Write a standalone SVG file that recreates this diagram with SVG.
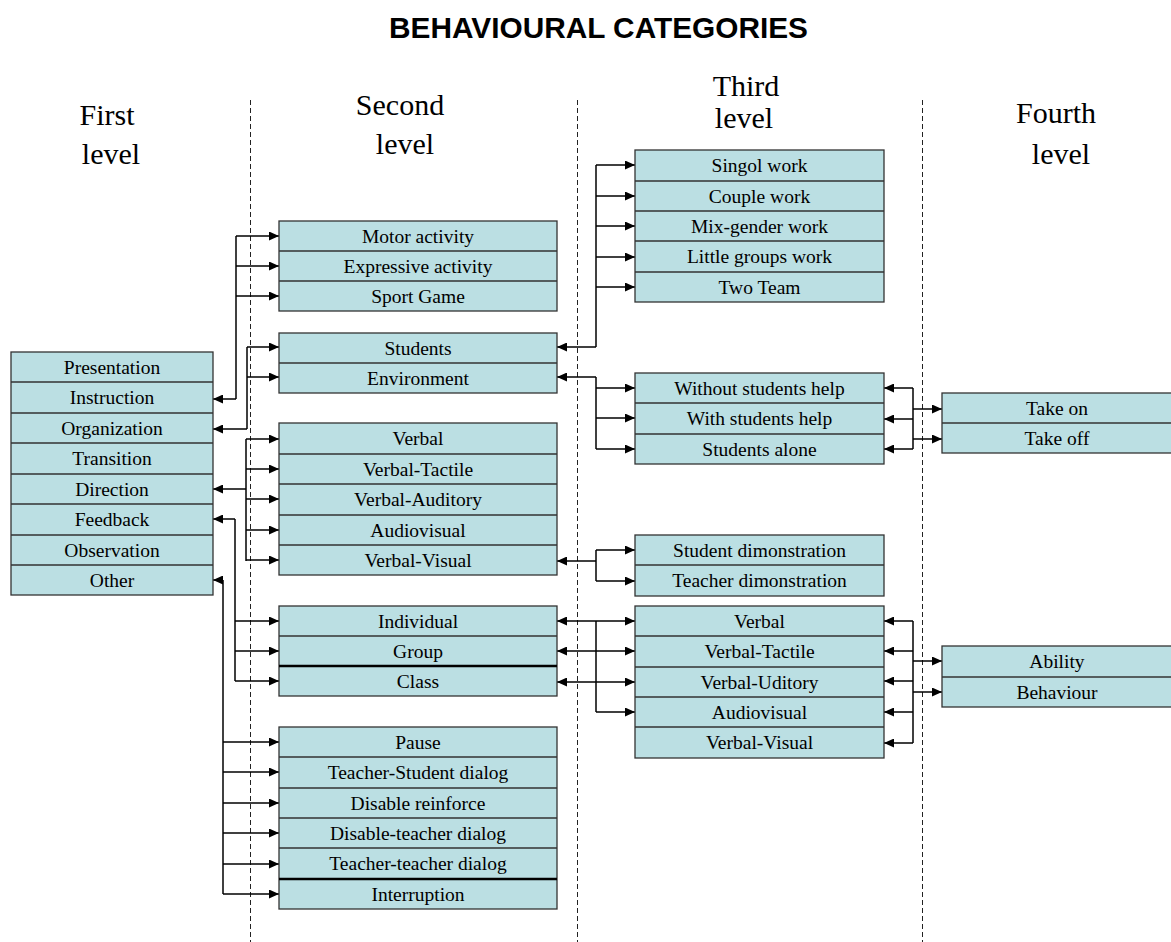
<svg xmlns="http://www.w3.org/2000/svg" width="1171" height="942" viewBox="0 0 1171 942">
<defs>
<marker id="ah" viewBox="0 0 10 9" refX="10" refY="4.5" markerWidth="10" markerHeight="9" markerUnits="userSpaceOnUse" orient="auto-start-reverse">
<path d="M0,0 L10,4.5 L0,9 z" fill="#000"/>
</marker>
<style>
.bx{fill:#bbdfe3;stroke:#333;stroke-width:1.3}
.sep{stroke:#333;stroke-width:1.3}
.thk{stroke:#000;stroke-width:2.6}
.t{font-family:"Liberation Serif","Times New Roman",serif;font-size:19.5px;fill:#000;text-anchor:middle}
.h{font-family:"Liberation Serif","Times New Roman",serif;font-size:30px;fill:#000;text-anchor:middle}
.title{font-family:"Liberation Sans",Arial,sans-serif;font-size:29.8px;font-weight:bold;fill:#000;text-anchor:middle}
.dash{stroke:#222;stroke-width:1;stroke-dasharray:5,3;fill:none}
.c{stroke:#000;stroke-width:1.5;fill:none}
.a{stroke:#000;stroke-width:1.5;fill:none;marker-end:url(#ah)}
.d{stroke:#000;stroke-width:1.5;fill:none;marker-end:url(#ah);marker-start:url(#ah)}
</style>
</defs>
<rect width="1171" height="942" fill="#fff"/>
<text class="title" x="598.5" y="38">BEHAVIOURAL CATEGORIES</text>
<g id="headings">
<text class="h" x="107" y="125">First</text>
<text class="h" x="111" y="164">level</text>
<text class="h" x="400" y="115">Second</text>
<text class="h" x="405" y="154">level</text>
<text class="h" x="746" y="96">Third</text>
<text class="h" x="744" y="128">level</text>
<text class="h" x="1056" y="123">Fourth</text>
<text class="h" x="1061" y="164">level</text>
</g>
<g id="dividers">
<line class="dash" x1="250.5" y1="100" x2="250.5" y2="942"/>
<line class="dash" x1="577.5" y1="100" x2="577.5" y2="942"/>
<line class="dash" x1="922.5" y1="100" x2="922.5" y2="942"/>
</g>
<g id="connectors">
<path class="c" d="M236,236 V399"/>
<path class="a" d="M236,399 H213"/>
<path class="a" d="M236,236 H279"/>
<path class="a" d="M236,266 H279"/>
<path class="a" d="M236,296 H279"/>
<path class="c" d="M247,347 V429"/>
<path class="a" d="M247,429 H213"/>
<path class="a" d="M247,347 H279"/>
<path class="a" d="M247,377 H279"/>
<path class="c" d="M246,439 V561"/>
<path class="a" d="M246,489 H213"/>
<path class="a" d="M246,439 H279"/>
<path class="a" d="M246,469 H279"/>
<path class="a" d="M246,499 H279"/>
<path class="a" d="M246,530 H279"/>
<path class="a" d="M246,560 H279"/>
<path class="c" d="M235,519 V681"/>
<path class="a" d="M235,519 H213"/>
<path class="a" d="M235,621 H279"/>
<path class="a" d="M235,651 H279"/>
<path class="a" d="M235,681 H279"/>
<path class="c" d="M223,580 V894"/>
<path class="a" d="M223,580 H213"/>
<path class="a" d="M223,742 H279"/>
<path class="a" d="M223,772 H279"/>
<path class="a" d="M223,803 H279"/>
<path class="a" d="M223,833 H279"/>
<path class="a" d="M223,864 H279"/>
<path class="a" d="M223,894 H279"/>
<path class="c" d="M596,165 V347"/>
<path class="a" d="M596,347 H557"/>
<path class="a" d="M596,165 H635"/>
<path class="a" d="M596,196 H635"/>
<path class="a" d="M596,226 H635"/>
<path class="a" d="M596,257 H635"/>
<path class="a" d="M596,287 H635"/>
<path class="c" d="M596,377 V449"/>
<path class="a" d="M596,377 H557"/>
<path class="a" d="M596,388 H635"/>
<path class="a" d="M596,418 H635"/>
<path class="a" d="M596,449 H635"/>
<path class="c" d="M596,550 V581"/>
<path class="a" d="M596,561 H557"/>
<path class="a" d="M596,550 H635"/>
<path class="a" d="M596,581 H635"/>
<path class="c" d="M596,621 V712"/>
<path class="d" d="M557,621 H635"/>
<path class="d" d="M557,651 H635"/>
<path class="d" d="M557,682 H635"/>
<path class="a" d="M596,712 H635"/>
<path class="c" d="M913,388 V449"/>
<path class="a" d="M913,388 H884"/>
<path class="a" d="M913,419 H884"/>
<path class="a" d="M913,449 H884"/>
<path class="a" d="M913,409 H942"/>
<path class="a" d="M913,439 H942"/>
<path class="c" d="M913,621 V743"/>
<path class="a" d="M913,621 H884"/>
<path class="a" d="M913,651 H884"/>
<path class="a" d="M913,681 H884"/>
<path class="a" d="M913,712 H884"/>
<path class="a" d="M913,743 H884"/>
<path class="a" d="M913,661 H942"/>
<path class="a" d="M913,692 H942"/>
</g>
<g id="first-level">
<rect class="bx" x="11" y="352" width="202" height="243"/>
<path class="sep" d="M11,382 H213 M11,413 H213 M11,443 H213 M11,474 H213 M11,504 H213 M11,535 H213 M11,565 H213"/>
<text class="t" x="112" y="374">Presentation</text>
<text class="t" x="112" y="404">Instruction</text>
<text class="t" x="112" y="435">Organization</text>
<text class="t" x="112" y="465">Transition</text>
<text class="t" x="112" y="496">Direction</text>
<text class="t" x="112" y="526">Feedback</text>
<text class="t" x="112" y="557">Observation</text>
<text class="t" x="112" y="587">Other</text>
</g>
<g id="second-activity">
<rect class="bx" x="279" y="221" width="278" height="90"/>
<path class="sep" d="M279,251 H557 M279,281 H557"/>
<text class="t" x="418" y="243">Motor activity</text>
<text class="t" x="418" y="273">Expressive activity</text>
<text class="t" x="418" y="303">Sport Game</text>
</g>
<g id="second-organization">
<rect class="bx" x="279" y="333" width="278" height="60"/>
<path class="sep" d="M279,363 H557"/>
<text class="t" x="418" y="355">Students</text>
<text class="t" x="418" y="385">Environment</text>
</g>
<g id="second-direction">
<rect class="bx" x="279" y="423" width="278" height="152"/>
<path class="sep" d="M279,454 H557 M279,484 H557 M279,515 H557 M279,545 H557"/>
<text class="t" x="418" y="445">Verbal</text>
<text class="t" x="418" y="476">Verbal-Tactile</text>
<text class="t" x="418" y="506">Verbal-Auditory</text>
<text class="t" x="418" y="537">Audiovisual</text>
<text class="t" x="418" y="567">Verbal-Visual</text>
</g>
<g id="second-feedback">
<rect class="bx" x="279" y="606" width="278" height="90"/>
<path class="sep" d="M279,636 H557"/>
<path class="thk" d="M279,666 H557"/>
<text class="t" x="418" y="628">Individual</text>
<text class="t" x="418" y="658">Group</text>
<text class="t" x="418" y="688">Class</text>
</g>
<g id="second-other">
<rect class="bx" x="279" y="727" width="278" height="182"/>
<path class="sep" d="M279,757 H557 M279,788 H557 M279,818 H557 M279,848 H557"/>
<path class="thk" d="M279,879 H557"/>
<text class="t" x="418" y="749">Pause</text>
<text class="t" x="418" y="779">Teacher-Student dialog</text>
<text class="t" x="418" y="810">Disable reinforce</text>
<text class="t" x="418" y="840">Disable-teacher dialog</text>
<text class="t" x="418" y="870">Teacher-teacher dialog</text>
<text class="t" x="418" y="901">Interruption</text>
</g>
<g id="third-students">
<rect class="bx" x="635" y="150" width="249" height="152"/>
<path class="sep" d="M635,181 H884 M635,211 H884 M635,241 H884 M635,272 H884"/>
<text class="t" x="759.5" y="172">Singol work</text>
<text class="t" x="759.5" y="203">Couple work</text>
<text class="t" x="759.5" y="233">Mix-gender work</text>
<text class="t" x="759.5" y="263">Little groups work</text>
<text class="t" x="759.5" y="294">Two Team</text>
</g>
<g id="third-environment">
<rect class="bx" x="635" y="373" width="249" height="91"/>
<path class="sep" d="M635,403 H884 M635,434 H884"/>
<text class="t" x="759.5" y="395">Without students help</text>
<text class="t" x="759.5" y="425">With students help</text>
<text class="t" x="759.5" y="456">Students alone</text>
</g>
<g id="third-visual">
<rect class="bx" x="635" y="535" width="249" height="61"/>
<path class="sep" d="M635,565 H884"/>
<text class="t" x="759.5" y="557">Student dimonstration</text>
<text class="t" x="759.5" y="587">Teacher dimonstration</text>
</g>
<g id="third-feedback">
<rect class="bx" x="635" y="606" width="249" height="152"/>
<path class="sep" d="M635,636 H884 M635,667 H884 M635,697 H884 M635,727 H884"/>
<text class="t" x="759.5" y="628">Verbal</text>
<text class="t" x="759.5" y="658">Verbal-Tactile</text>
<text class="t" x="759.5" y="689">Verbal-Uditory</text>
<text class="t" x="759.5" y="719">Audiovisual</text>
<text class="t" x="759.5" y="749">Verbal-Visual</text>
</g>
<g id="fourth-take">
<rect class="bx" x="942" y="393" width="232" height="60"/>
<path class="sep" d="M942,423 H1174"/>
<text class="t" x="1057" y="415">Take on</text>
<text class="t" x="1057" y="445">Take off</text>
</g>
<g id="fourth-ability">
<rect class="bx" x="942" y="646" width="232" height="61"/>
<path class="sep" d="M942,677 H1174"/>
<text class="t" x="1057" y="668">Ability</text>
<text class="t" x="1057" y="699">Behaviour</text>
</g>
</svg>
